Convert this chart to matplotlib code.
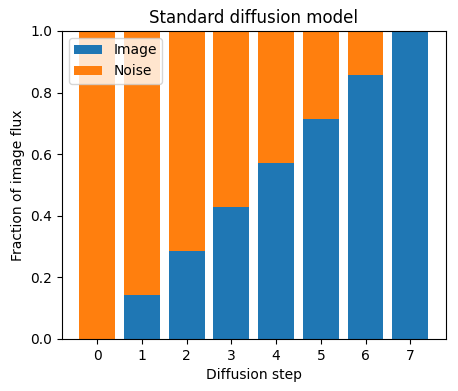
import matplotlib
matplotlib.use("Agg")
import matplotlib.pyplot as plt

steps = [0, 1, 2, 3, 4, 5, 6, 7]
image = [0.0, 0.143, 0.286, 0.429, 0.571, 0.714, 0.857, 1.0]
noise = [1.0, 0.857, 0.714, 0.571, 0.429, 0.286, 0.143, 0.0]

fig = plt.figure(figsize=(4.58, 3.91), dpi=100)
ax = fig.add_axes([0.135, 0.133, 0.838, 0.788])
ax.bar(steps, image, label="Image")
ax.bar(steps, noise, bottom=image, label="Noise")
ax.set_ylim(0, 1)
ax.set_xticks(steps)
ax.set_xlabel("Diffusion step")
ax.set_ylabel("Fraction of image flux")
ax.set_title("Standard diffusion model")
ax.legend(loc="upper left")
fig.savefig("out.png", dpi=100)
